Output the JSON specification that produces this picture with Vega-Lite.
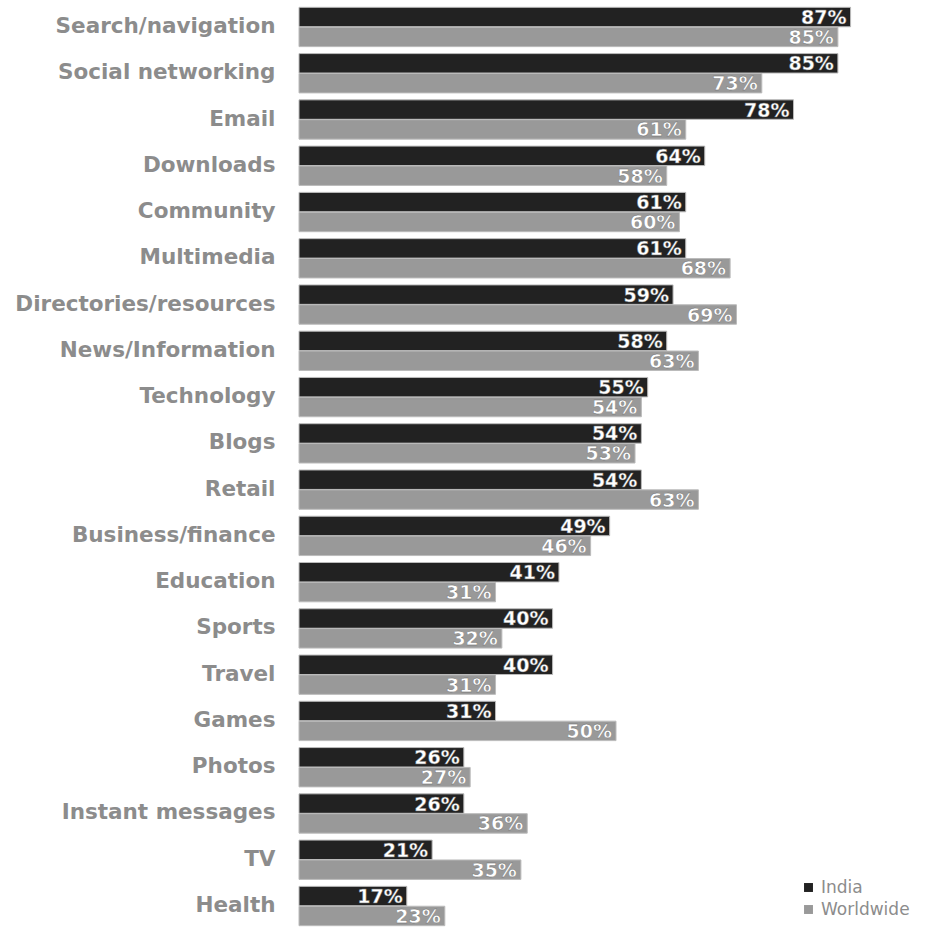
{
  "$schema": "https://vega.github.io/schema/vega-lite/v6.json",
  "width": 634,
  "height": 923,
  "autosize": {"type": "none"},
  "padding": {"left": 299, "top": 5, "right": 0, "bottom": 0},
  "background": "white",
  "config": {"view": {"stroke": null}},
  "data": {"values": [
    {"cat": "Search/navigation", "series": "India", "v": 0.87},
    {"cat": "Search/navigation", "series": "Worldwide", "v": 0.85},
    {"cat": "Social networking", "series": "India", "v": 0.85},
    {"cat": "Social networking", "series": "Worldwide", "v": 0.73},
    {"cat": "Email", "series": "India", "v": 0.78},
    {"cat": "Email", "series": "Worldwide", "v": 0.61},
    {"cat": "Downloads", "series": "India", "v": 0.64},
    {"cat": "Downloads", "series": "Worldwide", "v": 0.58},
    {"cat": "Community", "series": "India", "v": 0.61},
    {"cat": "Community", "series": "Worldwide", "v": 0.60},
    {"cat": "Multimedia", "series": "India", "v": 0.61},
    {"cat": "Multimedia", "series": "Worldwide", "v": 0.68},
    {"cat": "Directories/resources", "series": "India", "v": 0.59},
    {"cat": "Directories/resources", "series": "Worldwide", "v": 0.69},
    {"cat": "News/Information", "series": "India", "v": 0.58},
    {"cat": "News/Information", "series": "Worldwide", "v": 0.63},
    {"cat": "Technology", "series": "India", "v": 0.55},
    {"cat": "Technology", "series": "Worldwide", "v": 0.54},
    {"cat": "Blogs", "series": "India", "v": 0.54},
    {"cat": "Blogs", "series": "Worldwide", "v": 0.53},
    {"cat": "Retail", "series": "India", "v": 0.54},
    {"cat": "Retail", "series": "Worldwide", "v": 0.63},
    {"cat": "Business/finance", "series": "India", "v": 0.49},
    {"cat": "Business/finance", "series": "Worldwide", "v": 0.46},
    {"cat": "Education", "series": "India", "v": 0.41},
    {"cat": "Education", "series": "Worldwide", "v": 0.31},
    {"cat": "Sports", "series": "India", "v": 0.40},
    {"cat": "Sports", "series": "Worldwide", "v": 0.32},
    {"cat": "Travel", "series": "India", "v": 0.40},
    {"cat": "Travel", "series": "Worldwide", "v": 0.31},
    {"cat": "Games", "series": "India", "v": 0.31},
    {"cat": "Games", "series": "Worldwide", "v": 0.50},
    {"cat": "Photos", "series": "India", "v": 0.26},
    {"cat": "Photos", "series": "Worldwide", "v": 0.27},
    {"cat": "Instant messages", "series": "India", "v": 0.26},
    {"cat": "Instant messages", "series": "Worldwide", "v": 0.36},
    {"cat": "TV", "series": "India", "v": 0.21},
    {"cat": "TV", "series": "Worldwide", "v": 0.35},
    {"cat": "Health", "series": "India", "v": 0.17},
    {"cat": "Health", "series": "Worldwide", "v": 0.23}
  ]},
  "encoding": {
    "y": {
      "field": "cat", "type": "nominal", "sort": null,
      "scale": {"paddingInner": 0.15, "paddingOuter": 0.05},
      "axis": {
        "title": null, "domain": false, "ticks": false, "labelPadding": 24,
        "labelFont": "DejaVu Sans", "labelFontSize": 21.5, "labelFontWeight": "bold",
        "labelColor": "#8c8c8c", "labelLimit": 400
      }
    },
    "yOffset": {"field": "series", "type": "nominal", "scale": {"paddingInner": 0.02}},
    "x": {
      "field": "v", "type": "quantitative",
      "scale": {"domain": [0, 1], "nice": false},
      "axis": null
    }
  },
  "layer": [
    {
      "mark": {"type": "bar", "stroke": "#bbbbbb", "strokeWidth": 1},
      "encoding": {
        "color": {
          "field": "series", "type": "nominal",
          "scale": {"domain": ["India", "Worldwide"], "range": ["#222222", "#999999"]},
          "legend": {
            "title": null, "orient": "none", "legendX": 501, "legendY": 874,
            "symbolType": "square", "symbolSize": 80, "symbolStrokeWidth": 0,
            "labelFont": "DejaVu Sans", "labelFontSize": 17, "labelColor": "#8c8c8c",
            "rowPadding": 4, "labelOffset": 4
          }
        }
      }
    },
    {
      "mark": {
        "type": "text", "align": "right", "baseline": "middle", "dx": -4, "dy": 1,
        "font": "DejaVu Sans", "fontSize": 19, "fontWeight": "bold", "fill": "white",
        "stroke": "#666666", "strokeWidth": 0.4
      },
      "encoding": {
        "text": {"field": "v", "type": "quantitative", "format": ".0%"},
        "detail": {"field": "series"}
      }
    }
  ]
}
